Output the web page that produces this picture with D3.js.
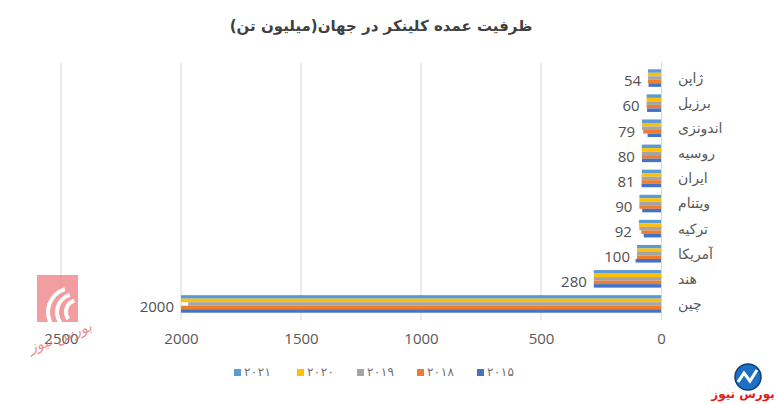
<!DOCTYPE html>
<html><head><meta charset="utf-8">
<script src="https://cdn.jsdelivr.net/npm/d3@7/dist/d3.min.js"></script>
<style>html,body{margin:0;padding:0;background:#fff;}svg{display:block;}</style>
</head><body>
<svg id="chart" width="776" height="404"></svg>
<script>
const categories = ['ژاپن','برزیل','اندونزی','روسیه','ایران','ویتنام','ترکیه','آمریکا','هند','چین'];
const seriesNames = ['۲۰۲۱','۲۰۲۰','۲۰۱۹','۲۰۱۸','۲۰۱۵'];
const seriesColors = ['#5b9bd5','#ffc000','#a5a5a5','#ed7d31','#4472c4'];
const v2021 = [54, 60, 79, 80, 80, 90, 92, 100, 280, 2000];
const v2020 = [54, 60, 79, 80, 81, 90, 92, 100, 280, 2000];
const v2019 = [54, 60, 79, 80, 81, 90, 90, 100, 280, 1970];
const v2018 = [54, 60, 74, 80, 81, 90, 82, 100, 280, 2000];
const v2015 = [52, 58, 56, 79, 81, 78, 72, 106, 280, 2000];
const labelValues = [54, 60, 79, 80, 81, 90, 92, 100, 280, 2000];
const xTicks = [0, 500, 1000, 1500, 2000, 2500];
const title = 'ظرفیت  عمده کلینکر در جهان(میلیون تن)';

const series = [v2021, v2020, v2019, v2018, v2015];
const svg = d3.select('#chart');

const x = d3.scaleLinear().domain([0, 2500]).range([661, 61]);
const y = d3.scaleBand().domain(categories).range([65.5, 316.5]).paddingInner(0.3).paddingOuter(0.15);
const ys = d3.scaleBand().domain(d3.range(series.length)).range([0, y.bandwidth()]);

// title
svg.append('text').attr('x', 381).attr('y', 31).attr('text-anchor', 'middle')
  .attr('font-family', 'DejaVu Sans').attr('font-weight', 'bold').attr('font-size', 15)
  .attr('fill', '#404040').attr('direction', 'rtl').text(title);

// gridlines
svg.append('g').selectAll('line').data(xTicks.filter(d => d > 0)).join('line')
  .attr('x1', d => x(d)).attr('x2', d => x(d)).attr('y1', 62).attr('y2', 320)
  .attr('stroke', '#d9d9d9').attr('stroke-width', 1);

// bars
const g = svg.append('g');
series.forEach((vals, si) => {
  g.append('g').selectAll('rect').data(vals).join('rect')
    .attr('x', d => x(d)).attr('width', d => x(0) - x(d))
    .attr('y', (d, i) => y(categories[i]) + ys(si)).attr('height', ys.bandwidth())
    .attr('fill', seriesColors[si]);
});

// category axis line
svg.append('line').attr('x1', x(0) + 0.5).attr('x2', x(0) + 0.5).attr('y1', 62).attr('y2', 320)
  .attr('stroke', '#d0d8e4').attr('stroke-width', 1);

// data labels
svg.append('g').selectAll('text').data(labelValues).join('text')
  .attr('x', d => x(d) - 7).attr('y', (d, i) => y(categories[i]) + y.bandwidth() / 2 + 3)
  .attr('dy', '0.35em').attr('text-anchor', 'end')
  .attr('font-family', 'Open Sans').attr('font-size', 15).attr('fill', '#505050')
  .text(d => d);

// category labels
svg.append('g').selectAll('text').data(categories).join('text')
  .attr('x', 678).attr('y', d => y(d) + y.bandwidth() / 2)
  .attr('dy', '0.35em').attr('text-anchor', 'start')
  .attr('font-family', 'DejaVu Sans').attr('font-size', 14).attr('fill', '#595959')
  .text(d => d);

// x axis tick labels
const xAxis = d3.axisBottom(x).tickValues(xTicks).tickSize(0).tickPadding(0).tickFormat(d3.format('d'));
const ax = svg.append('g').attr('transform', 'translate(0,333)').call(xAxis);
ax.select('.domain').remove();
ax.selectAll('text').attr('font-family', 'Open Sans').attr('font-size', 15).attr('fill', '#595959');

// legend
const legendX = [234, 297, 357, 417, 477];
const lg = svg.append('g');
seriesNames.forEach((n, i) => {
  lg.append('rect').attr('x', legendX[i]).attr('y', 369).attr('width', 7).attr('height', 7).attr('fill', seriesColors[i]);
  lg.append('text').attr('x', legendX[i] + 10).attr('y', 372).attr('dy', '0.35em')
    .attr('textLength', 27).attr('lengthAdjust', 'spacing')
    .attr('font-family', 'DejaVu Sans').attr('font-size', 12).attr('fill', '#707070').text(n);
});

// watermark bottom-left
const wm = svg.append('g').attr('opacity', 0.75);
wm.append('rect').attr('x', 37).attr('y', 275).attr('width', 41).attr('height', 47).attr('fill', '#ee7d80');
[0, 1, 2].forEach(i => {
  wm.append('path').attr('d', d3.arc()({innerRadius: 22 - i * 6, outerRadius: 26 - i * 6, startAngle: -2.2, endAngle: -0.3}))
    .attr('transform', `translate(${72 + i * 3},${312})`).attr('fill', '#fff');
});
wm.append('text').attr('x', 60).attr('y', 342).attr('text-anchor', 'middle')
  .attr('font-family', 'DejaVu Sans').attr('font-style', 'italic').attr('font-size', 15).attr('fill', '#e36b70')
  .attr('transform', 'rotate(-20,60,336)').text('بورس نیوز');

// logo bottom-right
const lr = svg.append('g');
lr.append('circle').attr('cx', 748).attr('cy', 377).attr('r', 13).attr('fill', '#1d6fc4').attr('stroke', '#0b3f7a').attr('stroke-width', 1.5);
lr.append('path').attr('d', 'M738,382 L744,373 L750,381 L757,370').attr('fill', 'none').attr('stroke', '#fff').attr('stroke-width', 3);
lr.append('text').attr('x', 743).attr('y', 398).attr('text-anchor', 'middle')
  .attr('font-family', 'DejaVu Sans').attr('font-weight', 'bold').attr('font-size', 12).attr('fill', '#e01b1b').text('بورس نیوز');
</script>
</body></html>
